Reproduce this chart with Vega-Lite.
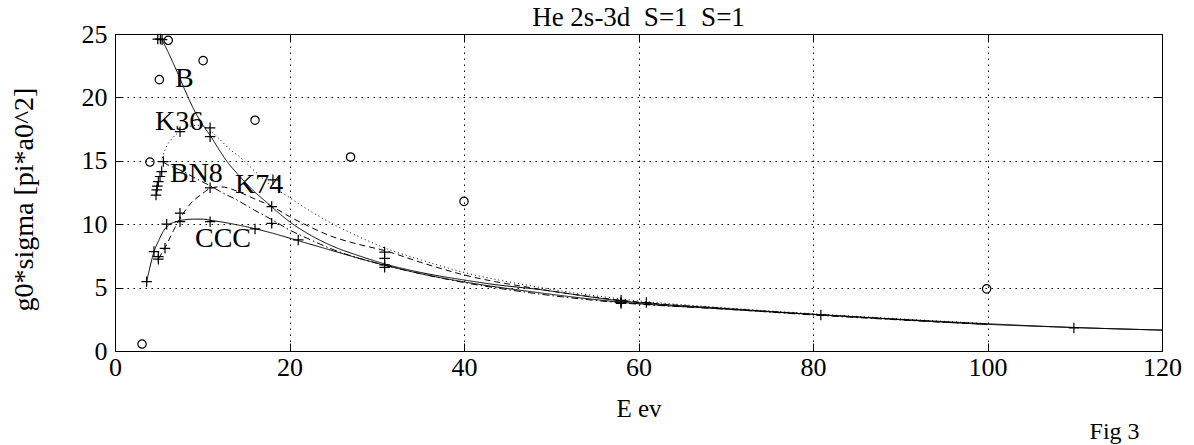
{
  "$schema": "https://vega.github.io/schema/vega-lite/v6.json",
  "width": 1047,
  "height": 317,
  "autosize": {"type": "none"},
  "padding": {"left": 115, "top": 34, "right": 32, "bottom": 94},
  "background": "white",
  "config": {
    "view": {"stroke": "black", "strokeWidth": 1},
    "axis": {
      "labelFont": "Liberation Serif", "labelFontSize": 26, "labelColor": "black",
      "titleFont": "Liberation Serif", "titleFontSize": 26, "titleFontWeight": "normal", "titleColor": "black",
      "domainColor": "black", "tickColor": "black", "tickSize": -8, "tickWidth": 1,
      "gridColor": "black", "gridDash": [1.5, 4.5], "gridOpacity": 1, "gridWidth": 1
    }
  },
  "datasets": {
    "curves": [
      {"curve": "B", "E": 5.3, "sigma": 24.65}, {"curve": "B", "E": 6, "sigma": 23.7}, {"curve": "B", "E": 7, "sigma": 22.2}, {"curve": "B", "E": 8, "sigma": 20.6}, {"curve": "B", "E": 9, "sigma": 19.1}, {"curve": "B", "E": 10, "sigma": 17.9}, {"curve": "B", "E": 11, "sigma": 16.9}, {"curve": "B", "E": 12, "sigma": 15.8}, {"curve": "B", "E": 13, "sigma": 14.8}, {"curve": "B", "E": 14, "sigma": 14.0}, {"curve": "B", "E": 15, "sigma": 13.25}, {"curve": "B", "E": 16, "sigma": 12.55}, {"curve": "B", "E": 17, "sigma": 11.95}, {"curve": "B", "E": 18, "sigma": 11.35}, {"curve": "B", "E": 19, "sigma": 10.75}, {"curve": "B", "E": 20, "sigma": 10.2}, {"curve": "B", "E": 22, "sigma": 9.3}, {"curve": "B", "E": 25, "sigma": 8.25}, {"curve": "B", "E": 28, "sigma": 7.5}, {"curve": "B", "E": 31, "sigma": 6.85}, {"curve": "B", "E": 35, "sigma": 6.2}, {"curve": "B", "E": 40, "sigma": 5.6}, {"curve": "B", "E": 44, "sigma": 5.2}, {"curve": "B", "E": 48, "sigma": 4.9}, {"curve": "B", "E": 58, "sigma": 3.95}, {"curve": "B", "E": 70, "sigma": 3.35}, {"curve": "B", "E": 81, "sigma": 2.85}, {"curve": "B", "E": 90, "sigma": 2.5}, {"curve": "B", "E": 100, "sigma": 2.15}, {"curve": "B", "E": 110, "sigma": 1.85}, {"curve": "B", "E": 120, "sigma": 1.65},
      {"curve": "K36", "E": 5.3, "sigma": 14.9}, {"curve": "K36", "E": 5.7, "sigma": 15.8}, {"curve": "K36", "E": 6.6, "sigma": 16.8}, {"curve": "K36", "E": 7.5, "sigma": 17.35}, {"curve": "K36", "E": 8.5, "sigma": 17.7}, {"curve": "K36", "E": 9.5, "sigma": 17.8}, {"curve": "K36", "E": 10.5, "sigma": 17.6}, {"curve": "K36", "E": 12, "sigma": 16.7}, {"curve": "K36", "E": 13, "sigma": 16.0}, {"curve": "K36", "E": 14.3, "sigma": 15.3}, {"curve": "K36", "E": 16.3, "sigma": 14.0}, {"curve": "K36", "E": 18, "sigma": 13.0}, {"curve": "K36", "E": 20, "sigma": 12.1}, {"curve": "K36", "E": 22, "sigma": 11.2}, {"curve": "K36", "E": 25, "sigma": 10.0}, {"curve": "K36", "E": 28, "sigma": 9.0}, {"curve": "K36", "E": 31, "sigma": 8.1}, {"curve": "K36", "E": 35, "sigma": 7.2}, {"curve": "K36", "E": 40, "sigma": 6.2}, {"curve": "K36", "E": 48, "sigma": 5.1}, {"curve": "K36", "E": 58, "sigma": 4.1}, {"curve": "K36", "E": 70, "sigma": 3.4}, {"curve": "K36", "E": 81, "sigma": 2.9}, {"curve": "K36", "E": 100, "sigma": 2.15},
      {"curve": "BN8", "E": 5.5, "sigma": 14.9}, {"curve": "BN8", "E": 6, "sigma": 14.7}, {"curve": "BN8", "E": 7, "sigma": 14.4}, {"curve": "BN8", "E": 8, "sigma": 14.1}, {"curve": "BN8", "E": 9, "sigma": 13.7}, {"curve": "BN8", "E": 10, "sigma": 13.35}, {"curve": "BN8", "E": 11, "sigma": 13.0}, {"curve": "BN8", "E": 12, "sigma": 12.6}, {"curve": "BN8", "E": 14, "sigma": 11.9}, {"curve": "BN8", "E": 16, "sigma": 11.1}, {"curve": "BN8", "E": 18, "sigma": 10.35}, {"curve": "BN8", "E": 20, "sigma": 9.55}, {"curve": "BN8", "E": 22, "sigma": 8.9}, {"curve": "BN8", "E": 25, "sigma": 8.0}, {"curve": "BN8", "E": 28, "sigma": 7.3}, {"curve": "BN8", "E": 31, "sigma": 6.75}, {"curve": "BN8", "E": 35, "sigma": 6.1}, {"curve": "BN8", "E": 40, "sigma": 5.4}, {"curve": "BN8", "E": 48, "sigma": 4.55}, {"curve": "BN8", "E": 58, "sigma": 3.8}, {"curve": "BN8", "E": 70, "sigma": 3.3}, {"curve": "BN8", "E": 81, "sigma": 2.8}, {"curve": "BN8", "E": 100, "sigma": 2.1},
      {"curve": "K74", "E": 5, "sigma": 7.3}, {"curve": "K74", "E": 6, "sigma": 8.5}, {"curve": "K74", "E": 6.7, "sigma": 9.5}, {"curve": "K74", "E": 7.5, "sigma": 10.5}, {"curve": "K74", "E": 8.5, "sigma": 11.5}, {"curve": "K74", "E": 10, "sigma": 12.4}, {"curve": "K74", "E": 11, "sigma": 12.85}, {"curve": "K74", "E": 12, "sigma": 12.95}, {"curve": "K74", "E": 13, "sigma": 12.85}, {"curve": "K74", "E": 14, "sigma": 12.6}, {"curve": "K74", "E": 16, "sigma": 12.0}, {"curve": "K74", "E": 18, "sigma": 11.4}, {"curve": "K74", "E": 20, "sigma": 10.6}, {"curve": "K74", "E": 22, "sigma": 9.9}, {"curve": "K74", "E": 25, "sigma": 9.0}, {"curve": "K74", "E": 28, "sigma": 8.4}, {"curve": "K74", "E": 31, "sigma": 7.9}, {"curve": "K74", "E": 35, "sigma": 7.0}, {"curve": "K74", "E": 40, "sigma": 6.0}, {"curve": "K74", "E": 48, "sigma": 4.95}, {"curve": "K74", "E": 58, "sigma": 4.0}, {"curve": "K74", "E": 70, "sigma": 3.35}, {"curve": "K74", "E": 81, "sigma": 2.85}, {"curve": "K74", "E": 100, "sigma": 2.1},
      {"curve": "CCC", "E": 3.63, "sigma": 5.47}, {"curve": "CCC", "E": 4, "sigma": 6.6}, {"curve": "CCC", "E": 4.5, "sigma": 7.9}, {"curve": "CCC", "E": 5, "sigma": 8.7}, {"curve": "CCC", "E": 5.5, "sigma": 9.4}, {"curve": "CCC", "E": 6, "sigma": 9.85}, {"curve": "CCC", "E": 7, "sigma": 10.2}, {"curve": "CCC", "E": 8, "sigma": 10.35}, {"curve": "CCC", "E": 9, "sigma": 10.4}, {"curve": "CCC", "E": 10, "sigma": 10.4}, {"curve": "CCC", "E": 11, "sigma": 10.3}, {"curve": "CCC", "E": 12, "sigma": 10.2}, {"curve": "CCC", "E": 14, "sigma": 9.95}, {"curve": "CCC", "E": 16, "sigma": 9.65}, {"curve": "CCC", "E": 18, "sigma": 9.3}, {"curve": "CCC", "E": 21, "sigma": 8.7}, {"curve": "CCC", "E": 25, "sigma": 7.9}, {"curve": "CCC", "E": 28, "sigma": 7.3}, {"curve": "CCC", "E": 31, "sigma": 6.75}, {"curve": "CCC", "E": 35, "sigma": 6.1}, {"curve": "CCC", "E": 40, "sigma": 5.45}, {"curve": "CCC", "E": 48, "sigma": 4.65}, {"curve": "CCC", "E": 58, "sigma": 3.85}, {"curve": "CCC", "E": 70, "sigma": 3.3}, {"curve": "CCC", "E": 81, "sigma": 2.85}, {"curve": "CCC", "E": 100, "sigma": 2.1}, {"curve": "CCC", "E": 110, "sigma": 1.85}, {"curve": "CCC", "E": 120, "sigma": 1.65}
    ],
    "plus": [
      {"E": 4.9, "sigma": 24.6}, {"E": 5.2, "sigma": 24.6}, {"E": 5.4, "sigma": 24.55},
      {"E": 7.45, "sigma": 17.3}, {"E": 10.9, "sigma": 17.6}, {"E": 10.9, "sigma": 16.9},
      {"E": 5.54, "sigma": 14.94}, {"E": 5.35, "sigma": 14.15}, {"E": 5.16, "sigma": 13.76}, {"E": 4.97, "sigma": 13.36}, {"E": 4.85, "sigma": 13.0}, {"E": 4.78, "sigma": 12.7}, {"E": 4.7, "sigma": 12.3},
      {"E": 10.9, "sigma": 12.87}, {"E": 18.1, "sigma": 13.5},
      {"E": 7.45, "sigma": 10.87}, {"E": 7.45, "sigma": 10.2}, {"E": 5.92, "sigma": 10.0}, {"E": 10.9, "sigma": 10.2}, {"E": 16.05, "sigma": 9.63},
      {"E": 17.96, "sigma": 11.39}, {"E": 17.96, "sigma": 10.07}, {"E": 21.0, "sigma": 8.76},
      {"E": 4.47, "sigma": 7.84}, {"E": 5.73, "sigma": 8.1}, {"E": 4.97, "sigma": 7.44}, {"E": 4.97, "sigma": 7.24}, {"E": 3.63, "sigma": 5.47},
      {"E": 30.9, "sigma": 7.8}, {"E": 30.9, "sigma": 7.3}, {"E": 30.9, "sigma": 6.8}, {"E": 30.9, "sigma": 6.6},
      {"E": 58, "sigma": 4.0}, {"E": 58, "sigma": 3.85}, {"E": 58, "sigma": 3.75},
      {"E": 60.9, "sigma": 3.82}, {"E": 80.9, "sigma": 2.84}, {"E": 109.9, "sigma": 1.82}
    ],
    "circles": [
      {"E": 3.1, "sigma": 0.55}, {"E": 4.0, "sigma": 14.9}, {"E": 5.08, "sigma": 21.4}, {"E": 6.1, "sigma": 24.5}, {"E": 10.1, "sigma": 22.9}, {"E": 16.05, "sigma": 18.2}, {"E": 27.0, "sigma": 15.3}, {"E": 40.0, "sigma": 11.8}, {"E": 99.9, "sigma": 4.9}
    ],
    "labels": [
      {"E": 6.88, "sigma": 20.84, "label": "B"},
      {"E": 4.58, "sigma": 17.44, "label": "K36"},
      {"E": 6.3, "sigma": 13.34, "label": "BN8"},
      {"E": 13.75, "sigma": 12.47, "label": "K74"},
      {"E": 9.17, "sigma": 8.2, "label": "CCC"}
    ],
    "title": [
      {"E": 60, "sigma": 25.6, "label": "He\u00a02s-3d\u00a0\u00a0S=1\u00a0\u00a0S=1"}
    ],
    "fig": [
      {"E": 111.7, "sigma": -6.95, "label": "Fig 3"}
    ]
  },
  "resolve": {"axis": {"x": "independent", "y": "independent"}},
  "layer": [
    {
      "data": {"name": "curves"},
      "mark": {"type": "line", "color": "black", "strokeWidth": 1, "interpolate": "monotone"},
      "encoding": {
        "x": {"field": "E", "type": "quantitative", "scale": {"domain": [0, 120], "nice": false, "zero": false},
              "axis": {"title": "E ev", "values": [0, 20, 40, 60, 80, 100, 120], "grid": true, "labelPadding": 11, "titleBaseline": "alphabetic", "titleY": 65, "titleFontSize": 25, "labelFlush": false}},
        "y": {"field": "sigma", "type": "quantitative", "scale": {"domain": [0, 25], "nice": false, "zero": false},
              "axis": {"title": "g0*sigma [pi*a0^2]", "values": [0, 5, 10, 15, 20, 25], "grid": true, "labelPadding": 16, "titleBaseline": "alphabetic", "titleX": -83, "titleY": 165, "titleFontSize": 28, "labelFlush": false}},
        "detail": {"field": "curve"},
        "strokeDash": {"field": "curve", "type": "nominal", "legend": null,
                       "scale": {"domain": ["B", "K36", "BN8", "K74", "CCC"], "range": [[1, 0], [1, 3], [7, 3, 1.5, 3], [6, 4], [1, 0]]}}
      }
    },
    {
      "data": {"name": "plus"},
      "mark": {"type": "point", "shape": "M-1,0L1,0M0,-1L0,1", "size": 110, "filled": false, "stroke": "black", "strokeWidth": 1.2, "opacity": 1},
      "encoding": {
        "x": {"field": "E", "type": "quantitative", "axis": {"orient": "top", "labels": false, "title": null, "grid": false, "domain": false, "values": [0, 20, 40, 60, 80, 100, 120]}},
        "y": {"field": "sigma", "type": "quantitative", "axis": {"orient": "right", "labels": false, "title": null, "grid": false, "domain": false, "values": [0, 5, 10, 15, 20, 25]}}
      }
    },
    {
      "data": {"name": "circles"},
      "mark": {"type": "point", "shape": "circle", "size": 70, "filled": false, "stroke": "black", "strokeWidth": 1.2, "opacity": 1},
      "encoding": {
        "x": {"field": "E", "type": "quantitative", "axis": null},
        "y": {"field": "sigma", "type": "quantitative", "axis": null}
      }
    },
    {
      "data": {"name": "labels"},
      "mark": {"type": "text", "font": "Liberation Serif", "fontSize": 28, "align": "left", "baseline": "alphabetic", "color": "black"},
      "encoding": {
        "x": {"field": "E", "type": "quantitative", "axis": null},
        "y": {"field": "sigma", "type": "quantitative", "axis": null},
        "text": {"field": "label"}
      }
    },
    {
      "data": {"name": "title"},
      "mark": {"type": "text", "font": "Liberation Serif", "fontSize": 27, "align": "center", "baseline": "alphabetic", "color": "black"},
      "encoding": {
        "x": {"field": "E", "type": "quantitative", "axis": null},
        "y": {"field": "sigma", "type": "quantitative", "axis": null},
        "text": {"field": "label"}
      }
    },
    {
      "data": {"name": "fig"},
      "mark": {"type": "text", "font": "Liberation Serif", "fontSize": 24, "align": "left", "baseline": "alphabetic", "color": "black"},
      "encoding": {
        "x": {"field": "E", "type": "quantitative", "axis": null},
        "y": {"field": "sigma", "type": "quantitative", "axis": null},
        "text": {"field": "label"}
      }
    }
  ]
}
